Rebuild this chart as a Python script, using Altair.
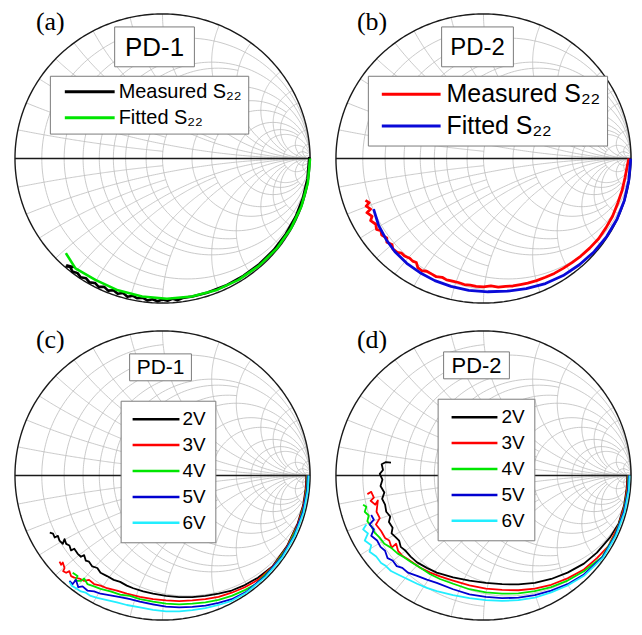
import numpy as np
import pandas as pd
import altair as alt

# ---------------- text ----------------
tags = ["(a)", "(b)", "(c)", "(d)"]
devices = ["PD-1", "PD-2", "PD-1", "PD-2"]
fit_series = ["Measured S₂₂", "Fitted S₂₂"]
volt_series = ["2V", "3V", "4V", "5V", "6V"]

# ---------------- data: reflection coefficient (Re, Im) ----------------
a_measured = [(0.995, 0.01), (0.983, -0.138), (0.952, -0.273), (0.903, -0.402), (0.836, -0.522),
              (0.754, -0.633), (0.657, -0.73), (0.548, -0.812), (0.429, -0.879), (0.302, -0.929),
              (0.203, -0.955), (0.136, -0.965), (0.103, -0.98), (0.068, -0.97), (0.034, -0.984),
              (0.0, -0.975), (-0.034, -0.987), (-0.068, -0.974), (-0.103, -0.982), (-0.135, -0.963),
              (-0.171, -0.967), (-0.202, -0.949), (-0.238, -0.956), (-0.267, -0.931), (-0.304, -0.936),
              (-0.332, -0.912), (-0.369, -0.914), (-0.395, -0.888), (-0.433, -0.888), (-0.458, -0.861),
              (-0.495, -0.857), (-0.518, -0.829), (-0.555, -0.822), (-0.576, -0.793), (-0.611, -0.782),
              (-0.627, -0.747), (-0.65, -0.747), (-0.607, -0.75), (-0.653, -0.738)]
a_fitted = [(1.0, 0.0), (0.985, -0.168), (0.941, -0.332), (0.87, -0.485), (0.773, -0.624),
            (0.653, -0.743), (0.515, -0.84), (0.362, -0.912), (0.198, -0.955), (0.03, -0.97),
            (-0.138, -0.955), (-0.302, -0.912), (-0.455, -0.84), (-0.59, -0.76), (-0.655, -0.655)]

b_measured = [(-0.80, -0.29), (-0.775, -0.305), (-0.795, -0.33), (-0.765, -0.35), (-0.79, -0.375),
              (-0.755, -0.40), (-0.765, -0.43), (-0.73, -0.455), (-0.725, -0.49), (-0.695, -0.50),
              (-0.69, -0.53), (-0.655, -0.55), (-0.655, -0.58), (-0.62, -0.595), (-0.615, -0.625),
              (-0.585, -0.65), (-0.555, -0.655), (-0.535, -0.675), (-0.50, -0.69), (-0.48, -0.71),
              (-0.455, -0.72), (-0.445, -0.755), (-0.42, -0.775), (-0.385, -0.78), (-0.35, -0.80),
              (-0.32, -0.818), (-0.28, -0.822), (-0.25, -0.84), (-0.21, -0.848), (-0.17, -0.858),
              (-0.13, -0.872), (-0.09, -0.876), (-0.05, -0.885), (0.0, -0.888), (0.05, -0.882),
              (0.10, -0.89), (0.15, -0.884), (0.20, -0.882), (0.25, -0.872), (0.30, -0.862),
              (0.36, -0.845), (0.42, -0.822), (0.48, -0.795), (0.54, -0.76), (0.60, -0.72),
              (0.66, -0.675), (0.72, -0.62), (0.78, -0.555), (0.83, -0.48), (0.875, -0.40),
              (0.91, -0.31), (0.94, -0.22), (0.96, -0.13), (0.975, -0.05), (0.985, 0.0)]
b_fitted = [(0.998, 0.0), (0.985, -0.15), (0.955, -0.29), (0.905, -0.42), (0.835, -0.54),
            (0.75, -0.645), (0.65, -0.735), (0.54, -0.81), (0.42, -0.865), (0.29, -0.9),
            (0.16, -0.918), (0.03, -0.922), (-0.10, -0.912), (-0.22, -0.885), (-0.33, -0.845),
            (-0.43, -0.79), (-0.52, -0.725), (-0.60, -0.645), (-0.66, -0.56), (-0.71, -0.465),
            (-0.745, -0.35)]

c_2v = [(-0.764, -0.396), (-0.742, -0.402), (-0.731, -0.429), (-0.709, -0.418), (-0.698, -0.451),
        (-0.676, -0.473), (-0.664, -0.44), (-0.653, -0.473), (-0.631, -0.484), (-0.62, -0.518),
        (-0.598, -0.507), (-0.576, -0.54), (-0.553, -0.562), (-0.531, -0.551), (-0.52, -0.589),
        (-0.498, -0.596), (-0.476, -0.629), (-0.442, -0.64), (-0.42, -0.673), (-0.376, -0.696),
        (-0.331, -0.722), (-0.287, -0.736), (-0.242, -0.762), (-0.198, -0.78), (-0.131, -0.802),
        (-0.064, -0.818), (0.024, -0.833), (0.113, -0.842), (0.202, -0.842), (0.291, -0.833),
        (0.38, -0.818), (0.469, -0.796), (0.558, -0.758), (0.647, -0.707), (0.747, -0.627),
        (0.844, -0.488), (0.916, -0.333), (0.954, -0.203), (0.971, -0.085), (0.975, 0.0)]
c_3v = [(-0.698, -0.596), (-0.687, -0.618), (-0.676, -0.602), (-0.664, -0.64), (-0.673, -0.662),
        (-0.653, -0.673), (-0.631, -0.662), (-0.62, -0.696), (-0.598, -0.707), (-0.564, -0.713),
        (-0.531, -0.729), (-0.498, -0.722), (-0.464, -0.751), (-0.42, -0.762), (-0.376, -0.78),
        (-0.309, -0.796), (-0.242, -0.818), (-0.153, -0.84), (-0.064, -0.856), (0.024, -0.864),
        (0.113, -0.869), (0.202, -0.864), (0.291, -0.856), (0.38, -0.84), (0.469, -0.811),
        (0.558, -0.773), (0.647, -0.722), (0.749, -0.629), (0.847, -0.489), (0.919, -0.334),
        (0.957, -0.203), (0.974, -0.085), (0.978, 0.0)]
c_4v = [(-0.609, -0.673), (-0.576, -0.696), (-0.593, -0.729), (-0.553, -0.729), (-0.531, -0.713),
        (-0.509, -0.751), (-0.464, -0.767), (-0.42, -0.784), (-0.353, -0.802), (-0.287, -0.824),
        (-0.22, -0.833), (-0.153, -0.856), (-0.064, -0.873), (0.024, -0.887), (0.113, -0.891),
        (0.202, -0.887), (0.291, -0.878), (0.38, -0.86), (0.469, -0.833), (0.558, -0.793),
        (0.631, -0.752), (0.752, -0.631), (0.85, -0.491), (0.923, -0.336), (0.961, -0.204),
        (0.978, -0.086), (0.982, 0.0)]
c_5v = [(-0.631, -0.729), (-0.609, -0.751), (-0.587, -0.722), (-0.571, -0.773), (-0.542, -0.767),
        (-0.509, -0.796), (-0.464, -0.802), (-0.42, -0.818), (-0.353, -0.829), (-0.287, -0.842),
        (-0.22, -0.856), (-0.153, -0.873), (-0.064, -0.891), (0.024, -0.907), (0.113, -0.913),
        (0.202, -0.909), (0.291, -0.9), (0.38, -0.882), (0.469, -0.856), (0.565, -0.807),
        (0.696, -0.696), (0.807, -0.565), (0.893, -0.416), (0.951, -0.255), (0.98, -0.103),
        (0.985, 0.0)]
c_6v = [(-0.631, -0.736), (-0.616, -0.762), (-0.587, -0.78), (-0.553, -0.802), (-0.52, -0.811),
        (-0.487, -0.833), (-0.442, -0.847), (-0.376, -0.862), (-0.309, -0.878), (-0.242, -0.896),
        (-0.153, -0.913), (-0.064, -0.929), (0.024, -0.94), (0.113, -0.94), (0.202, -0.931),
        (0.291, -0.918), (0.38, -0.896), (0.469, -0.867), (0.568, -0.811), (0.7, -0.7),
        (0.811, -0.568), (0.897, -0.418), (0.956, -0.256), (0.985, -0.103), (0.99, 0.0)]

d_2v = [(-0.627, 0.089), (-0.661, 0.093), (-0.69, 0.078), (-0.681, 0.038), (-0.703, 0.011),
        (-0.685, -0.029), (-0.698, -0.073), (-0.672, -0.118), (-0.687, -0.162), (-0.667, -0.202),
        (-0.659, -0.251), (-0.632, -0.284), (-0.641, -0.322), (-0.616, -0.361), (-0.623, -0.401),
        (-0.594, -0.428), (-0.572, -0.45), (-0.561, -0.494), (-0.528, -0.521), (-0.494, -0.561),
        (-0.45, -0.601), (-0.384, -0.639), (-0.317, -0.672), (-0.206, -0.705), (-0.095, -0.727),
        (0.016, -0.743), (0.126, -0.752), (0.237, -0.754), (0.348, -0.743), (0.459, -0.716),
        (0.57, -0.672), (0.681, -0.61), (0.769, -0.534), (0.858, -0.428), (0.916, -0.333),
        (0.954, -0.203), (0.971, -0.085), (0.975, 0.0)]
d_3v = [(-0.787, -0.129), (-0.761, -0.113), (-0.743, -0.153), (-0.765, -0.175), (-0.734, -0.202),
        (-0.716, -0.173), (-0.725, -0.251), (-0.703, -0.295), (-0.729, -0.339), (-0.694, -0.384),
        (-0.667, -0.432), (-0.639, -0.45), (-0.623, -0.499), (-0.592, -0.472), (-0.579, -0.521),
        (-0.548, -0.557), (-0.512, -0.579), (-0.468, -0.61), (-0.424, -0.641), (-0.361, -0.672),
        (-0.295, -0.698), (-0.206, -0.727), (-0.095, -0.761), (0.016, -0.783), (0.126, -0.792),
        (0.237, -0.794), (0.348, -0.783), (0.459, -0.756), (0.57, -0.712), (0.681, -0.65),
        (0.769, -0.572), (0.847, -0.489), (0.919, -0.334), (0.957, -0.203), (0.974, -0.085),
        (0.978, 0.0)]
d_4v = [(-0.816, -0.202), (-0.794, -0.217), (-0.805, -0.251), (-0.778, -0.277), (-0.787, -0.317),
        (-0.761, -0.35), (-0.738, -0.395), (-0.705, -0.428), (-0.672, -0.472), (-0.627, -0.499),
        (-0.583, -0.539), (-0.539, -0.565), (-0.494, -0.596), (-0.428, -0.639), (-0.361, -0.683),
        (-0.295, -0.716), (-0.206, -0.749), (-0.095, -0.787), (0.016, -0.809), (0.126, -0.818),
        (0.237, -0.816), (0.348, -0.8), (0.459, -0.772), (0.57, -0.727), (0.681, -0.663),
        (0.804, -0.563), (0.89, -0.415), (0.949, -0.254), (0.977, -0.103), (0.982, 0.0)]
d_5v = [(-0.761, -0.273), (-0.743, -0.306), (-0.772, -0.339), (-0.743, -0.373), (-0.761, -0.417),
        (-0.721, -0.45), (-0.698, -0.494), (-0.667, -0.521), (-0.65, -0.572), (-0.616, -0.588),
        (-0.588, -0.627), (-0.55, -0.639), (-0.512, -0.672), (-0.45, -0.694), (-0.384, -0.72),
        (-0.317, -0.743), (-0.206, -0.787), (-0.095, -0.823), (0.016, -0.84), (0.126, -0.849),
        (0.237, -0.845), (0.348, -0.827), (0.459, -0.796), (0.57, -0.752), (0.681, -0.685),
        (0.807, -0.565), (0.893, -0.416), (0.951, -0.255), (0.98, -0.103), (0.985, 0.0)]
d_6v = [(-0.794, -0.339), (-0.816, -0.373), (-0.783, -0.401), (-0.805, -0.45), (-0.761, -0.483),
        (-0.772, -0.528), (-0.727, -0.561), (-0.694, -0.605), (-0.661, -0.627), (-0.627, -0.661),
        (-0.583, -0.683), (-0.517, -0.716), (-0.45, -0.749), (-0.384, -0.778), (-0.317, -0.8),
        (-0.206, -0.827), (-0.095, -0.849), (0.016, -0.863), (0.126, -0.867), (0.237, -0.863),
        (0.348, -0.845), (0.459, -0.809), (0.57, -0.761), (0.681, -0.694), (0.811, -0.568),
        (0.897, -0.418), (0.956, -0.256), (0.985, -0.103), (0.99, 0.0)]

# ---------------- Smith chart grid (axis furniture) ----------------
INF = float("inf")
R_CIRCLES = [(0.1, 1.0), (0.2, INF), (0.3, 1.0), (0.4, 1.0), (0.5, INF), (0.6, 2.0), (0.8, 2.0),
             (1.0, INF), (1.5, 5.0), (2.0, INF), (3.0, 10.0), (4.0, 10.0), (5.0, INF),
             (10.0, INF), (20.0, 50.0), (50.0, INF)]
X_ARCS = [(0.1, 1.0), (0.2, INF), (0.3, 1.0), (0.4, 1.0), (0.5, INF), (0.6, 2.0), (0.8, 2.0),
          (1.0, INF), (1.5, 5.0), (2.0, INF), (3.0, 10.0), (4.0, 10.0), (5.0, INF),
          (10.0, INF), (20.0, 50.0)]


def smith_grid():
    rows = []
    lid = 0

    def add(g):
        nonlocal lid
        for k, v in enumerate(g):
            rows.append((lid, k, round(float(v.real), 4), round(float(v.imag), 4)))
        lid += 1

    for r, xm in R_CIRCLES:
        if np.isinf(xm):
            t = np.linspace(0, 2 * np.pi, 181)
            g = r / (1 + r) + np.exp(1j * t) / (1 + r)
        else:
            x = np.tan(np.linspace(-np.arctan(xm), np.arctan(xm), 121))
            z = r + 1j * x
            g = (z - 1) / (z + 1)
        add(g)
    for x, rm in X_ARCS:
        top = np.pi / 2 - 1e-3 if np.isinf(rm) else np.arctan(rm)
        rr = np.tan(np.linspace(0, top, 121))
        for s in (1, -1):
            z = rr + 1j * s * x
            add((z - 1) / (z + 1))
    return pd.DataFrame(rows, columns=["id", "i", "re", "im"])


grid_df = smith_grid()
t = np.linspace(0, 2 * np.pi, 361)
frame_df = pd.concat([
    pd.DataFrame({"id": 0, "i": np.arange(361), "re": np.round(np.cos(t), 4), "im": np.round(np.sin(t), 4)}),
    pd.DataFrame({"id": 1, "i": [0, 1], "re": [-1.0, 1.0], "im": [0.0, 0.0]}),
])

# ---------------- layout ----------------
W, H = 304, 295
XS = alt.Scale(domain=[-1.0473, 1.00676], nice=False, zero=False)
YS = alt.Scale(domain=[-1.0069, 1.02759], nice=False, zero=False)


def curves_df(names, lists):
    rows = []
    for n, pts in zip(names, lists):
        for k, (re, im) in enumerate(pts):
            rows.append({"series": n, "i": k, "re": re, "im": im})
    return pd.DataFrame(rows)


def panel(tag, dev, names, lists, colors, width, leg, box, dev_font, tag_y):
    xe = alt.X("re:Q", scale=XS, axis=None)
    ye = alt.Y("im:Q", scale=YS, axis=None)
    layers = [
        alt.Chart(grid_df).mark_line(color="#bcbcbc", strokeWidth=0.8).encode(
            x=xe, y=ye, detail="id:N", order="i:Q"),
        alt.Chart(frame_df).mark_line(color="#1a1a1a", strokeWidth=1.4).encode(
            x=xe, y=ye, detail="id:N", order="i:Q"),
    ]
    df = curves_df(names, lists)
    for n in names:
        layers.append(
            alt.Chart(df).transform_filter(alt.datum.series == n)
            .mark_line(strokeWidth=width, strokeJoin="round")
            .encode(x=xe, y=ye, order="i:Q",
                    color=alt.Color("series:N", scale=alt.Scale(domain=names, range=colors), legend=leg))
        )
    lab = pd.DataFrame({"t": [dev]})
    layers.append(alt.Chart(lab).mark_rect(fill="white", stroke="#7a7a7a", strokeWidth=1).encode(
        x=alt.value(box[0]), x2=alt.value(box[2]), y=alt.value(box[1]), y2=alt.value(box[3])))
    layers.append(alt.Chart(lab).mark_text(font="Liberation Sans", fontSize=dev_font, color="black",
                                           align="center", baseline="middle").encode(
        x=alt.value((box[0] + box[2]) / 2), y=alt.value((box[1] + box[3]) / 2 + 1), text="t:N"))
    layers.append(alt.Chart(pd.DataFrame({"t": [tag]})).mark_text(
        font="Liberation Serif", fontSize=26, color="black", align="left", baseline="alphabetic").encode(
        x=alt.value(28), y=alt.value(tag_y), text="t:N"))
    return alt.layer(*layers).properties(width=W, height=H)


def make_legend(x, y, font, line_len, sw, pad, rowpad, gap, extra):
    # custom horizontal stroke symbol: size 100 -> unit = 5 px
    k = line_len / 10.0
    sym_off = extra + line_len / 2 - font / 2
    return alt.Legend(orient="none", legendX=x, legendY=y, title=None,
                      symbolType=f"M-{k:.2f},0H{k:.2f}", symbolSize=100, symbolStrokeWidth=sw,
                      symbolOffset=sym_off, labelOffset=line_len / 2 + gap - font / 2,
                      labelFont="Liberation Sans", labelFontSize=font, labelColor="black",
                      labelLimit=0, strokeColor="#7a7a7a", fillColor="white",
                      padding=pad, rowPadding=rowpad)


pa = panel(tags[0], devices[0], fit_series, [a_measured, a_fitted], ["#000000", "#00e600"], 2.6,
           make_legend(42, 66, 20, 50, 3, 6, 6, 4, 9), (107, 17, 187, 57), 26, 20)
pb = panel(tags[1], devices[1], fit_series, [b_measured, b_fitted], ["#ff0000", "#0a0ad8"], 2.8,
           make_legend(39, 66, 25, 59, 3, 6, 6, 6, 8), (113, 17, 185, 57), 24, 20)
volt_colors = ["#000000", "#ff0000", "#00e600", "#0000d0", "#22eeff"]
pc = panel(tags[2], devices[2], volt_series, [c_2v, c_3v, c_4v, c_5v, c_6v], volt_colors, 1.8,
           make_legend(113, 74, 19, 47, 2.5, 9, 6, 3, 3), (122, 27, 184, 54), 21, 21)
pd_ = panel(tags[3], devices[3], volt_series, [d_2v, d_3v, d_4v, d_5v, d_6v], volt_colors, 1.8,
            make_legend(109, 72, 19, 46, 2.5, 9, 6, 4, 5), (115, 25, 181, 52), 22, 21)

chart = (
    alt.concat(pa, pb, pc, pd_, columns=2, spacing={"row": 23, "column": 18}, bounds="flush")
    .resolve_scale(color="independent")
    .properties(padding=0, background="white")
    .configure_view(strokeWidth=0)
)

chart.save("out.html", embed_options={"renderer": "svg", "actions": False})
